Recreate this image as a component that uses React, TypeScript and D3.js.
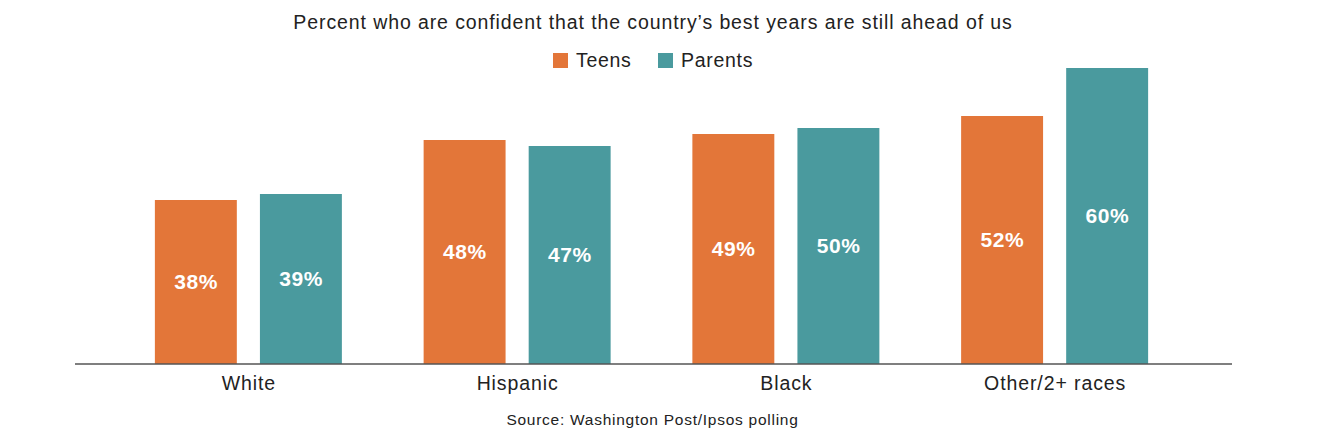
import React from "react";
import * as d3 from "d3";

const categories = ["White", "Hispanic", "Black", "Other/2+ races"];
const seriesNames = ["Teens", "Parents"];
const teens = [38, 48, 49, 52];
const parents = [39, 47, 50, 60];
const colors = ["#E37639", "#4A9A9E"];

const W = 1320;
const H = 436;
const FONT = "'Liberation Sans', Arial, Helvetica, sans-serif";

export default function App() {
  const baseline = 364;
  const x0 = d3.scaleBand<string>().domain(categories).range([114, 1189]).paddingInner(0).paddingOuter(0);
  const x1 = d3.scaleBand<string>().domain(seriesNames).range([0, 187]).paddingInner(0.22);
  const y = d3.scaleLinear().domain([0, 60]).range([428, 68]);
  const values = [teens, parents];

  return (
    <svg width={W} height={H} style={{ position: "absolute", left: 0, top: 0, background: "#fff" }}>
      <text x={653} y={29} textAnchor="middle" fontFamily={FONT} fontSize={19.5} letterSpacing={0.9} fill="#222">
        Percent who are confident that the country’s best years are still ahead of us
      </text>
      {/* legend */}
      <g fontFamily={FONT} fontSize={19.5} letterSpacing={0.7} fill="#222">
        <rect x={553} y={53} width={15} height={15} fill={colors[0]} />
        <text x={576} y={67}>{seriesNames[0]}</text>
        <rect x={658} y={53} width={15} height={15} fill={colors[1]} />
        <text x={681} y={67}>{seriesNames[1]}</text>
      </g>
      {categories.map((c, i) => {
        const gx = x0(c)! + (x0.bandwidth() - 187) / 2;
        return (
          <g key={c} transform={`translate(${gx},0)`}>
            {seriesNames.map((s, j) => {
              const v = values[j][i];
              const bx = x1(s)!;
              const top = y(v);
              return (
                <g key={s}>
                  <rect x={bx} y={top} width={x1.bandwidth()} height={baseline - top} fill={colors[j]} />
                  <text
                    x={bx + x1.bandwidth() / 2 + 0.3}
                    y={(top + baseline) / 2}
                    dy="0.35em"
                    textAnchor="middle"
                    fontFamily={FONT}
                    fontWeight="bold"
                    fontSize={21}
                    letterSpacing={0.6}
                    fill="#fff"
                  >
                    {v}%
                  </text>
                </g>
              );
            })}
          </g>
        );
      })}
      <line x1={75} x2={1232} y1={baseline} y2={baseline} stroke="#555" strokeWidth={1.3} />
      {categories.map((c) => (
        <text
          key={c}
          x={x0(c)! + x0.bandwidth() / 2 + 0.5}
          y={390}
          textAnchor="middle"
          fontFamily={FONT}
          fontSize={19.5}
          letterSpacing={0.9}
          fill="#222"
        >
          {c}
        </text>
      ))}
      <text x={652.5} y={425} textAnchor="middle" fontFamily={FONT} fontSize={15.5} letterSpacing={0.74} fill="#222">
        Source: Washington Post/Ipsos polling
      </text>
    </svg>
  );
}
